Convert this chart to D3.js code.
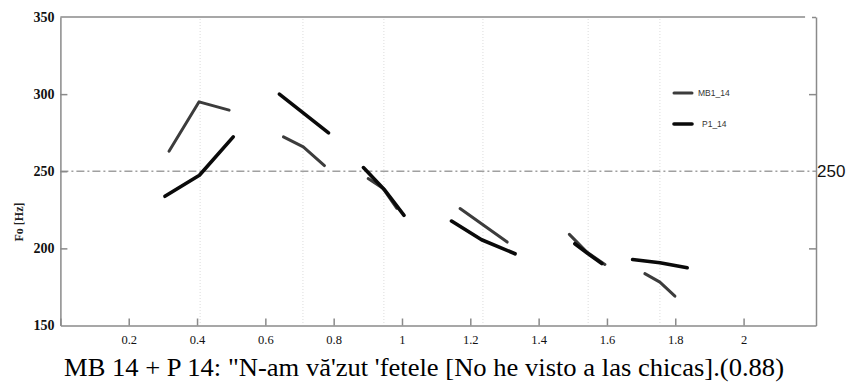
<!DOCTYPE html>
<html>
<head>
<meta charset="utf-8">
<script src="https://cdn.jsdelivr.net/npm/d3@7/dist/d3.min.js"></script>
<style>
  html, body { margin: 0; padding: 0; background: #fff; }
  svg { display: block; }
  .serif { font-family: "Liberation Serif", "Times New Roman", Times, serif; }
  .sans { font-family: "Liberation Sans", Arial, Helvetica, sans-serif; }
</style>
</head>
<body>
<svg id="chart" width="848" height="383"></svg>
<script>
// Time axis (s) and F0 axis (Hz)
const xTicks = [0.2, 0.4, 0.6, 0.8, 1, 1.2, 1.4, 1.6, 1.8, 2];
const xTickLabels = ["0.2", "0.4", "0.6", "0.8", "1", "1.2", "1.4", "1.6", "1.8", "2"];
const yTicks = [150, 200, 250, 300, 350];
const yInnerTicks = [200, 250, 300];
const referenceF0 = 250;

// Syllable boundaries (s)
const boundaries = [0.409, 0.710, 0.947, 1.237, 1.545, 1.755];

// F0 contours, one array of [time, Hz] per voiced stretch
const mb1Segments = [
  [[0.318, 263], [0.406, 295], [0.494, 289.6]],
  [[0.653, 272.3], [0.711, 265.8], [0.773, 253.7]],
  [[0.901, 245.3], [0.944, 239], [0.985, 226]],
  [[1.170, 225.8], [1.308, 204.1]],
  [[1.490, 209.1], [1.541, 197.6], [1.594, 189.6]],
  [[1.711, 183.6], [1.755, 178.1], [1.799, 169]]
];
const p1Segments = [
  [[0.306, 233.8], [0.407, 247.4], [0.506, 272.3]],
  [[0.641, 300], [0.785, 274.9]],
  [[0.887, 252.4], [0.950, 237.7], [1.006, 221.4]],
  [[1.145, 217.7], [1.233, 205.6], [1.331, 196.5]],
  [[1.506, 203], [1.545, 196.5], [1.585, 190.2]],
  [[1.675, 192.8], [1.755, 190.7], [1.835, 187.5]]
];

const seriesNames = ["MB1_14", "P1_14"];
const caption = "MB 14 + P 14: \"N-am vă'zut 'fetele [No he visto a las chicas].(0.88)";

const svg = d3.select("#chart");
const plotLeft = 60.4, plotRight = 816, plotTop = 17, plotBottom = 325.5;
const xMax = 2.212;

const x = d3.scaleLinear().domain([0, xMax]).range([plotLeft, plotRight]);
const y = d3.scaleLinear().domain([150, 350]).range([plotBottom, plotTop]);

const axisColor = "#8a8a8a";

// boundary markers
svg.append("g").selectAll("line").data(boundaries).join("line")
  .attr("x1", d => x(d)).attr("x2", d => x(d))
  .attr("y1", plotTop + 2).attr("y2", plotBottom - 1)
  .attr("stroke", "#dcdcdc").attr("stroke-width", 1)
  .attr("stroke-dasharray", "1,2");

// reference line at 250 Hz
svg.append("line")
  .attr("x1", plotLeft).attr("x2", plotRight)
  .attr("y1", y(referenceF0)).attr("y2", y(referenceF0))
  .attr("stroke", "#a0a0a0").attr("stroke-width", 1.3)
  .attr("stroke-dasharray", "8,3,2,3");

// top frame line
svg.append("line")
  .attr("x1", plotLeft).attr("x2", x(2.18))
  .attr("y1", plotTop).attr("y2", plotTop)
  .attr("stroke", axisColor).attr("stroke-width", 1.5);

// bottom axis
const gx = svg.append("g").attr("transform", `translate(0,${plotBottom})`)
  .call(d3.axisBottom(x).tickValues([0].concat(xTicks))
    .tickFormat((d, i) => i === 0 ? "" : xTickLabels[i - 1])
    .tickSizeInner(-7).tickSizeOuter(0).tickPadding(10));
gx.attr("font-family", null);
gx.select(".domain").attr("stroke", axisColor).attr("stroke-width", 1.5);
gx.selectAll(".tick line").attr("stroke", axisColor).attr("stroke-width", 1.5);
gx.selectAll(".tick text").attr("class", "serif").attr("font-size", 12.5).attr("fill", "#111");

// left axis
const gy = svg.append("g").attr("transform", `translate(${plotLeft},0)`)
  .call(d3.axisLeft(y).tickValues(yTicks).tickFormat(d3.format("d"))
    .tickSizeInner(-7).tickSizeOuter(0).tickPadding(6));
gy.attr("font-family", null);
gy.select(".domain").attr("stroke", axisColor).attr("stroke-width", 1.5);
gy.selectAll(".tick line")
  .attr("stroke", axisColor).attr("stroke-width", 1.5)
  .attr("display", d => yInnerTicks.includes(d) ? null : "none");
gy.selectAll(".tick text").attr("class", "serif").attr("font-size", 14)
  .attr("fill", "#111").attr("font-weight", "bold");

// right axis
const gr = svg.append("g").attr("transform", `translate(${plotRight},0)`)
  .call(d3.axisRight(y).tickValues([200, 300, 350]).tickFormat("")
    .tickSizeInner(-7).tickSizeOuter(0));
gr.select(".domain").attr("stroke", axisColor).attr("stroke-width", 1.5);
gr.selectAll(".tick line").attr("stroke", axisColor).attr("stroke-width", 1.5)
  .attr("x2", d => d === 350 ? -4 : -7);

// right-hand label of the reference level
svg.append("text").attr("class", "sans")
  .attr("x", plotRight + 1).attr("y", y(referenceF0))
  .attr("dy", "0.36em")
  .attr("font-size", 17).attr("fill", "#111")
  .text(referenceF0);

// y-axis title
svg.append("text").attr("class", "serif")
  .attr("transform", `translate(23,${222}) rotate(-90)`)
  .attr("text-anchor", "middle")
  .attr("font-size", 12).attr("font-weight", "bold")
  .attr("fill", "#222")
  .text("Fo [Hz]");

// contours
const line = d3.line().x(d => x(d[0])).y(d => y(d[1])).curve(d3.curveLinear);

svg.append("g").selectAll("path").data(mb1Segments).join("path")
  .attr("d", line).attr("fill", "none")
  .attr("stroke", "#3c3c3c").attr("stroke-width", 3)
  .attr("stroke-linecap", "round").attr("stroke-linejoin", "round");

svg.append("g").selectAll("path").data(p1Segments).join("path")
  .attr("d", line).attr("fill", "none")
  .attr("stroke", "#0a0a0a").attr("stroke-width", 3.6)
  .attr("stroke-linecap", "round").attr("stroke-linejoin", "round");

// legend
const legend = svg.append("g");
const legendRows = [
  { name: seriesNames[0], yPos: 93, color: "#3c3c3c", w: 3, tx: 698 },
  { name: seriesNames[1], yPos: 124, color: "#0a0a0a", w: 3.6, tx: 702 }
];
legendRows.forEach(r => {
  legend.append("line")
    .attr("x1", 674).attr("x2", 692).attr("y1", r.yPos).attr("y2", r.yPos)
    .attr("stroke", r.color).attr("stroke-width", r.w).attr("stroke-linecap", "round");
  legend.append("text").attr("class", "sans")
    .attr("x", r.tx).attr("y", r.yPos).attr("dy", "0.35em")
    .attr("font-size", 8.5).attr("fill", "#333")
    .text(r.name);
});

// caption
svg.append("text").attr("class", "serif")
  .attr("x", 424).attr("y", 376)
  .attr("text-anchor", "middle")
  .attr("font-size", 25).attr("fill", "#000")
  .attr("textLength", 720).attr("lengthAdjust", "spacingAndGlyphs")
  .text(caption);
</script>
</body>
</html>
